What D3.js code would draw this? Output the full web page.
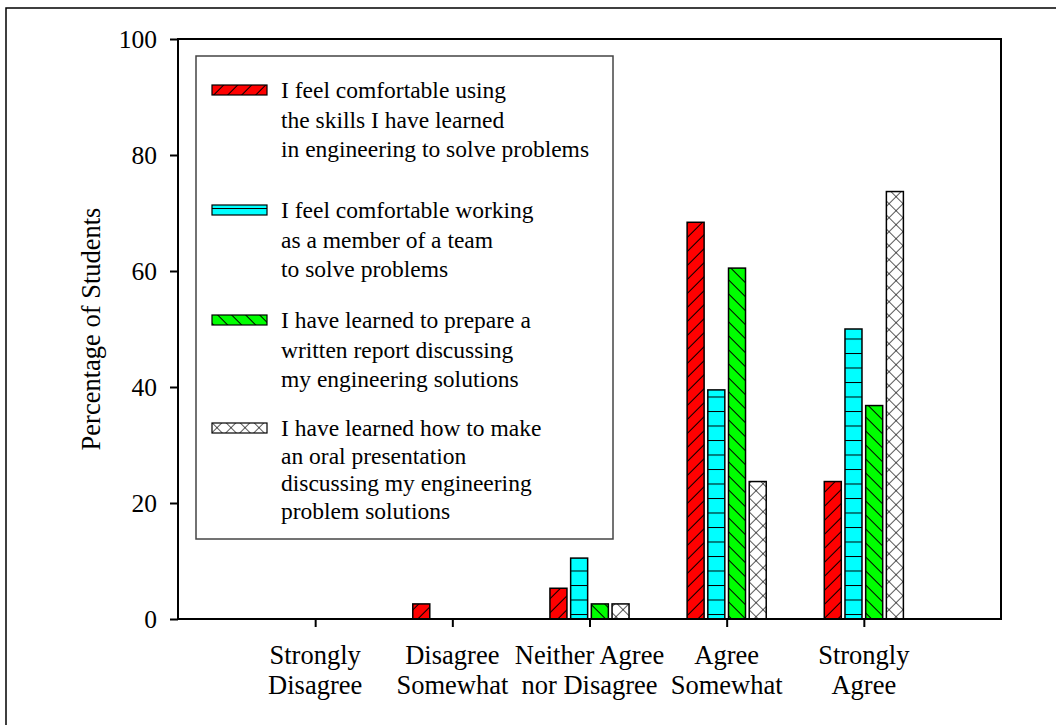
<!DOCTYPE html>
<html>
<head>
<meta charset="utf-8">
<script src="https://cdn.jsdelivr.net/npm/d3@7"></script>
<style>
  body { margin: 0; background: #fff; }
  svg text { font-family: "Liberation Serif", "DejaVu Serif", serif; fill: black; }
</style>
</head>
<body>
<div id="chart"></div>
<script>
// Categories on the x axis (each split into two lines)
var categories = ["Strongly Disagree", "Disagree Somewhat", "Neither Agree nor Disagree", "Agree Somewhat", "Strongly Agree"];
var categoryLines = [["Strongly", "Disagree"], ["Disagree", "Somewhat"], ["Neither Agree", "nor Disagree"], ["Agree", "Somewhat"], ["Strongly", "Agree"]];

// Percentage of students for each statement
var skillsValues = [0, 2.6, 5.3, 68.4, 23.7];
var teamValues = [0, 0, 10.5, 39.5, 50.0];
var reportValues = [0, 0, 2.6, 60.5, 36.8];
var oralValues = [0, 0, 2.6, 23.7, 73.7];

var yTicks = [0, 20, 40, 60, 80, 100];

var seriesNames = [
    ["I feel comfortable using", "the skills I have learned", "in engineering to solve problems"],
    ["I feel comfortable working", "as a member of a team", "to solve problems"],
    ["I have learned to prepare a", "written report discussing", "my engineering solutions"],
    ["I have learned how to make", "an oral presentation", "discussing my engineering", "problem solutions"]
];

var series = [
    { values: skillsValues, fill: "url(#hatchRed)" },
    { values: teamValues, fill: "url(#hatchCyan)" },
    { values: reportValues, fill: "url(#hatchGreen)" },
    { values: oralValues, fill: "url(#hatchCross)" }
];

var width = 1056, height = 725;
var margin = { top: 39, right: 55, bottom: 106, left: 178 };

var svg = d3.select("#chart").append("svg")
    .attr("width", width)
    .attr("height", height);

// Page border (top and left edge of the scanned page)
svg.append("path")
    .attr("d", "M6,725 V8 H1056")
    .attr("fill", "none")
    .attr("stroke", "black")
    .attr("stroke-width", 1.5);

// Hatch patterns
var defs = svg.append("defs");

function diagPattern(id, color, angle) {
    var p = defs.append("pattern")
        .attr("id", id)
        .attr("patternUnits", "userSpaceOnUse")
        .attr("width", 9.9).attr("height", 9.9)
        .attr("patternTransform", "rotate(" + angle + ")");
    p.append("rect").attr("width", 9.9).attr("height", 9.9).attr("fill", color);
    p.append("line").attr("x1", 0).attr("y1", -1).attr("x2", 0).attr("y2", 11)
        .attr("stroke", "black").attr("stroke-width", 2);
}
diagPattern("hatchRed", "#ff0000", 45);
diagPattern("hatchGreen", "#00ff00", -45);

var cyanP = defs.append("pattern")
    .attr("id", "hatchCyan")
    .attr("patternUnits", "userSpaceOnUse")
    .attr("width", 20).attr("height", 14.5)
    .attr("y", 5);
cyanP.append("rect").attr("width", 20).attr("height", 14.5).attr("fill", "#00ffff");
cyanP.append("line").attr("x1", 0).attr("x2", 20).attr("y1", 0).attr("y2", 0)
    .attr("stroke", "black").attr("stroke-width", 2);

var crossP = defs.append("pattern")
    .attr("id", "hatchCross")
    .attr("patternUnits", "userSpaceOnUse")
    .attr("width", 9.9).attr("height", 9.9)
    .attr("patternTransform", "rotate(45)");
crossP.append("rect").attr("width", 9.9).attr("height", 9.9).attr("fill", "white");
crossP.append("line").attr("x1", 0).attr("y1", -1).attr("x2", 0).attr("y2", 11)
    .attr("stroke", "black").attr("stroke-width", 1.3);
crossP.append("line").attr("x1", -1).attr("y1", 0).attr("x2", 11).attr("y2", 0)
    .attr("stroke", "black").attr("stroke-width", 1.3);

// Scales
var x = d3.scalePoint()
    .domain(categories)
    .range([margin.left, width - margin.right])
    .padding(1);

var y = d3.scaleLinear()
    .domain([0, 100])
    .range([height - margin.bottom, margin.top]);

var barWidth = 17, barStep = 20.7;

// Bars
var barG = svg.append("g");
series.forEach(function (s, si) {
    barG.append("g").selectAll("rect")
        .data(s.values.map(function (v, i) { return { v: v, c: categories[i] }; })
            .filter(function (d) { return d.v > 0; }))
        .enter().append("rect")
        .attr("x", function (d) { return x(d.c) + (si - 2) * barStep + (barStep - barWidth) / 2; })
        .attr("y", function (d) { return y(d.v); })
        .attr("width", barWidth)
        .attr("height", function (d) { return y(0) - y(d.v); })
        .attr("fill", s.fill)
        .attr("stroke", "black")
        .attr("stroke-width", 1.5);
});

// Frame
svg.append("rect")
    .attr("x", margin.left)
    .attr("y", margin.top)
    .attr("width", width - margin.right - margin.left)
    .attr("height", y(0) - margin.top)
    .attr("fill", "none")
    .attr("stroke", "black")
    .attr("stroke-width", 2);

// Y axis
var yAxis = svg.append("g")
    .attr("transform", "translate(" + margin.left + ",0)")
    .call(d3.axisLeft(y).tickValues(yTicks).tickSize(8).tickPadding(13));
yAxis.attr("font-family", null).attr("font-size", null);
yAxis.select(".domain").remove();
yAxis.selectAll("line").attr("stroke", "black").attr("stroke-width", 2);
yAxis.selectAll("text")
    .attr("fill", "black")
    .style("font-size", "25.5px");

// X axis
var xAxis = svg.append("g")
    .attr("transform", "translate(0," + y(0) + ")")
    .call(d3.axisBottom(x).tickSize(8).tickFormat(""));
xAxis.select(".domain").remove();
xAxis.selectAll("line").attr("stroke", "black").attr("stroke-width", 2);

categories.forEach(function (c, i) {
    var t = svg.append("text")
        .attr("x", x(c))
        .attr("y", 664)
        .attr("text-anchor", "middle")
        .style("font-size", "26.5px");
    categoryLines[i].forEach(function (line, li) {
        t.append("tspan").attr("x", x(c)).attr("dy", li === 0 ? 0 : 30).text(line);
    });
});

// Y axis title
svg.append("text")
    .attr("transform", "rotate(-90)")
    .attr("x", -(margin.top + y(0)) / 2)
    .attr("y", 100)
    .attr("text-anchor", "middle")
    .style("font-size", "26.5px")
    .text("Percentage of Students");

// Legend
var legend = svg.append("g");
legend.append("rect")
    .attr("x", 196).attr("y", 56)
    .attr("width", 417).attr("height", 483)
    .attr("fill", "white")
    .attr("stroke", "#444")
    .attr("stroke-width", 1.5);

var legendStarts = [98, 218, 328, 436];
seriesNames.forEach(function (lines, si) {
    var base = legendStarts[si];
    legend.append("rect")
        .attr("x", 212).attr("y", base - 13)
        .attr("width", 55).attr("height", 10)
        .attr("fill", series[si].fill)
        .attr("stroke", "black")
        .attr("stroke-width", 1.2);
    lines.forEach(function (line, li) {
        legend.append("text")
            .attr("x", 281)
            .attr("y", base + li * (si === 3 ? 27.5 : 29.5))
            .style("font-size", "23.5px")
            .text(line);
    });
});
</script>
</body>
</html>
